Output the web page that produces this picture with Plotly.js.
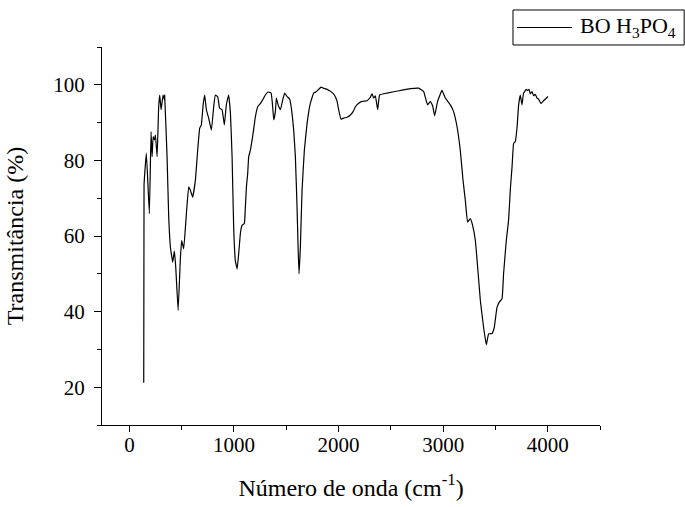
<!DOCTYPE html>
<html>
<head>
<meta charset="utf-8">
<script src="https://cdn.plot.ly/plotly-3.0.1.min.js"></script>
<style>html,body{margin:0;padding:0;background:#fff;}#chart{width:685px;height:507px;}</style>
</head>
<body>
<div id="chart"></div>
<script>
// Wavenumber (cm^-1)
const wavenumber = [137,140,162,191,207,217,227,239,249,265,280,290,303,322,335,337,360,376,392,414,430,443,466,488,500,519,545,567,583,605,631,653,672,688,705,720,736,758,784,806,822,844,863,886,908,927,949,966,982,997,1013,1030,1045,1061,1077,1099,1109,1119,1131,1141,1157,1183,1205,1227,1252,1274,1300,1326,1355,1370,1380,1396,1405,1422,1444,1466,1485,1508,1533,1555,1571,1587,1603,1613,1622,1635,1651,1673,1699,1730,1762,1788,1810,1833,1858,1890,1928,1960,1986,2001,2024,2049,2081,2113,2139,2161,2192,2225,2272,2304,2320,2336,2352,2374,2393,2464,2591,2686,2766,2814,2836,2852,2878,2900,2919,2947,2989,3021,3069,3100,3133,3164,3190,3212,3234,3260,3282,3308,3330,3356,3387,3413,3435,3467,3489,3515,3537,3563,3578,3604,3626,3642,3659,3674,3690,3706,3722,3738,3754,3769,3795,3808,3821,3834,3850,3865,3881,3898,3913,3936,3961,4003];
// Transmittance (%)
const transmitancia = [21.2,73.5,81.9,65.9,87.6,81,86.3,85.4,86.7,81,94.2,97.3,93.4,97.3,96,97.3,81,65,57.1,53.1,56,51.8,40.3,54.4,58.8,56.6,65.9,73,72.1,70.3,74.8,82.7,88.5,89.4,94.7,97.3,93.4,91.2,88,94.2,97.3,96.9,93.8,93.4,89.4,94.7,97.3,92.5,81,62.4,53.5,51.3,55.3,60.6,62.8,63.3,67.7,73,76.5,81,82.7,87.2,91.6,94.2,95,96,97.3,98.1,97.8,94.2,90.7,92.9,96.5,94.7,93.4,96,97.8,96.9,96.2,92.5,88,81,67.7,57.1,50,57.1,72.1,82.7,89.8,95.1,97.8,98.2,98.8,99.4,99.1,98.8,98.2,97.3,95.6,93.4,90.9,91.2,91.4,92,92.9,94.2,95.1,95.6,95.8,96.7,97.6,96.5,97.1,93.4,97.3,97.8,98.5,99,99.1,98.2,96,94.7,95.6,94.4,91.8,95.6,98.5,96.5,94.7,92.9,88.9,82.7,74.8,69.5,63.7,64.6,62.8,58.8,51.8,42.9,35.8,31.2,34.1,34.2,35.8,41.1,42.5,43.4,50,58.8,64.2,72.1,78.3,84.5,85,88.5,94.7,97.3,94.7,97.8,98.8,98.5,98.8,97.6,98.2,97.1,97.5,96.5,96.2,95,95.8,96.9];
const seriesName = 'BO H<sub>3</sub>PO<sub>4</sub>';
const xTickVals = [0,1000,2000,3000,4000];
const yTickVals = [20,40,60,80,100];

const fam = 'Liberation Serif, Times New Roman, serif';

Plotly.newPlot('chart', [{
  x: wavenumber, y: transmitancia, type: 'scatter', mode: 'lines',
  name: seriesName, showlegend: false,
  line: {color: '#000', width: 1.2, shape: 'spline', smoothing: 0.3}
}], {
  width: 685, height: 507,
  margin: {l: 102, r: 85, t: 47, b: 82},
  paper_bgcolor: '#fff', plot_bgcolor: '#fff',
  font: {family: fam, size: 21, color: '#000'},
  showlegend: false,
  // legend box drawn in paper coordinates (outside the plot area, top right)
  shapes: [
    {type: 'rect', xref: 'paper', yref: 'paper', x0: 0.8253, x1: 1.169, y0: 1.0053, y1: 1.0979,
     line: {color: '#000', width: 1}, fillcolor: '#fff', layer: 'above'},
    {type: 'line', xref: 'paper', yref: 'paper', x0: 0.8333, x1: 0.9438, y0: 1.0516, y1: 1.0516,
     line: {color: '#000', width: 1.2}, layer: 'above'}
  ],
  annotations: [
    {xref: 'paper', yref: 'paper', x: 0.9558, y: 1.0516, xanchor: 'left', yanchor: 'middle',
     text: seriesName, showarrow: false, font: {family: fam, size: 22, color: '#000'}}
  ],
  xaxis: {
    range: [-262, 4500], tickvals: xTickVals, ticktext: xTickVals.map(String),
    showline: true, linecolor: '#000', linewidth: 1,
    ticks: 'outside', ticklen: 6, tickwidth: 1, tickcolor: '#000',
    ticklabelstandoff: -5,
    minor: {dtick: 500, tick0: 0, ticks: 'outside', ticklen: 4, tickwidth: 1, tickcolor: '#000', showgrid: false},
    showgrid: false, zeroline: false,
    tickfont: {family: fam, size: 21, color: '#000'},
    title: {text: 'Número de onda (cm<sup>-1</sup>)', font: {family: fam, size: 24, color: '#000'}, standoff: 22}
  },
  yaxis: {
    range: [10, 110], tickvals: yTickVals, ticktext: yTickVals.map(String),
    showline: true, linecolor: '#000', linewidth: 1,
    ticks: 'outside', ticklen: 7, tickwidth: 1, tickcolor: '#000',
    ticklabelstandoff: 5,
    minor: {dtick: 10, tick0: 0, ticks: 'outside', ticklen: 4, tickwidth: 1, tickcolor: '#000', showgrid: false},
    showgrid: false, zeroline: false,
    tickfont: {family: fam, size: 21, color: '#000'},
    title: {text: 'Transmitância (%)', font: {family: fam, size: 24, color: '#000'}, standoff: 22}
  }
}, {displayModeBar: false, staticPlot: true});
</script>
</body>
</html>
